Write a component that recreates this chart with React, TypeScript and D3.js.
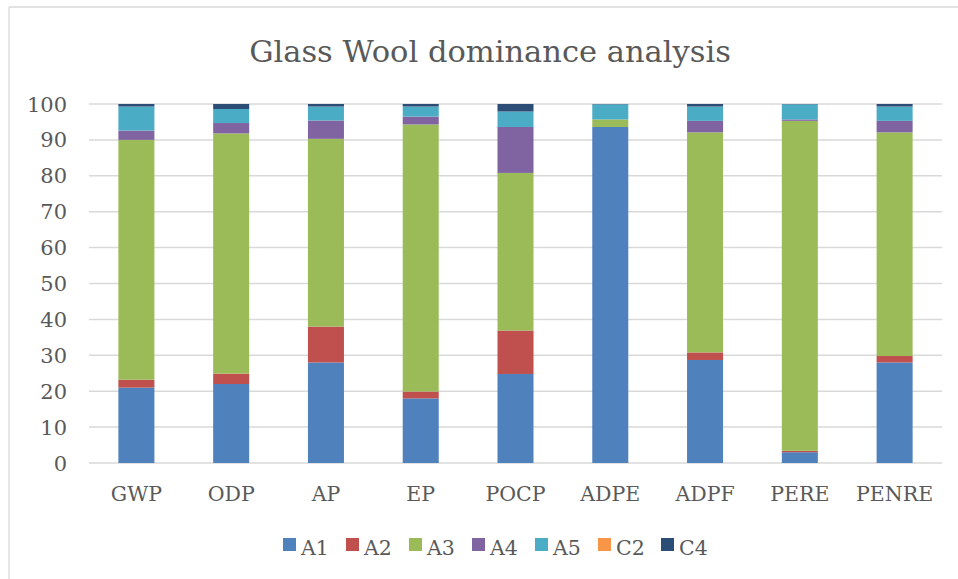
import * as d3 from "d3";

// chart data
const categories = ["GWP", "ODP", "AP", "EP", "POCP", "ADPE", "ADPF", "PERE", "PENRE"];
const seriesNames = ["A1", "A2", "A3", "A4", "A5", "C2", "C4"];
const A1 = [21, 22, 28, 18, 24.8, 93.6, 28.7, 3, 28];
const A2 = [2.2, 2.9, 10, 1.9, 12.1, 0, 2.1, 0.4, 1.8];
const A3 = [66.8, 66.9, 52.3, 74.4, 43.9, 2.1, 61.3, 91.9, 62.3];
const A4 = [2.6, 2.9, 5.1, 2.2, 12.8, 0, 3.2, 0.4, 3.2];
const A5 = [6.7, 3.9, 3.9, 2.8, 4.3, 4.2, 4.0, 4.2, 4.0];
const C2 = [0, 0, 0, 0, 0, 0, 0, 0, 0];
const C4 = [0.7, 1.4, 0.7, 0.7, 2.1, 0.1, 0.7, 0.1, 0.7];
const yTicks = [0, 10, 20, 30, 40, 50, 60, 70, 80, 90, 100];

const colors = ["#4F81BD", "#C0504D", "#9BBB59", "#8064A2", "#4BACC6", "#F79646", "#2C4D75"];

const width = 958;
const height = 579;
const marginLeft = 89;
const marginRight = 16;
const marginTop = 104;
const bottom = 463;

const font = "'DejaVu Serif', serif";
const textColor = "#595959";

export default function App() {
  const all = [A1, A2, A3, A4, A5, C2, C4];
  const rows = categories.map((c, i) => {
    const r: Record<string, any> = {cat: c};
    seriesNames.forEach((s, j) => (r[s] = all[j][i]));
    return r;
  });
  const stacked = d3.stack<any>().keys(seriesNames)(rows);

  const x = d3
    .scaleBand()
    .domain(categories)
    .range([marginLeft, width - marginRight])
    .paddingInner(0.62)
    .paddingOuter(0.31);

  const y = d3.scaleLinear().domain([0, 100]).range([bottom, marginTop]);

  const legendStart = 283;
  const legendStep = 63;

  return (
    <svg width={width} height={height} style={{position: "absolute", left: 0, top: 0, background: "#fff"}}>
      {/* chart frame (only top and left visible) */}
      <line x1={9} x2={width} y1={7} y2={7} stroke="#d9d9d9" strokeWidth={1.3} />
      <line x1={9} x2={9} y1={7} y2={height} stroke="#d9d9d9" strokeWidth={1.3} />

      <text x={490} y={62} textAnchor="middle" fontFamily={font} fontSize={30.5} fill={textColor}>
        Glass Wool dominance analysis
      </text>

      {yTicks.map((t) => (
        <g key={t}>
          <line x1={marginLeft} x2={width - marginRight} y1={y(t)} y2={y(t)} stroke="#d9d9d9" strokeWidth={1.5} />
          <text x={67} y={y(t)} dy="0.36em" textAnchor="end" fontFamily={font} fontSize={21} fill={textColor}>
            {t}
          </text>
        </g>
      ))}

      {stacked.map((layer, j) => (
        <g key={layer.key} fill={colors[j]}>
          {layer.map((d, i) => (
            <rect
              key={i}
              x={x(categories[i])}
              width={x.bandwidth()}
              y={y(d[1])}
              height={Math.max(0, y(d[0]) - y(d[1]))}
            />
          ))}
        </g>
      ))}

      {categories.map((c) => (
        <text
          key={c}
          x={(x(c) ?? 0) + x.bandwidth() / 2}
          y={501}
          textAnchor="middle"
          fontFamily={font}
          fontSize={20.5}
          fill={textColor}
        >
          {c}
        </text>
      ))}

      {seriesNames.map((s, j) => (
        <g key={s} transform={`translate(${legendStart + j * legendStep},0)`}>
          <rect x={0} y={538} width={13} height={13} fill={colors[j]} />
          <text x={18} y={555} fontFamily={font} fontSize={20.5} fill={textColor}>
            {s}
          </text>
        </g>
      ))}
    </svg>
  );
}
